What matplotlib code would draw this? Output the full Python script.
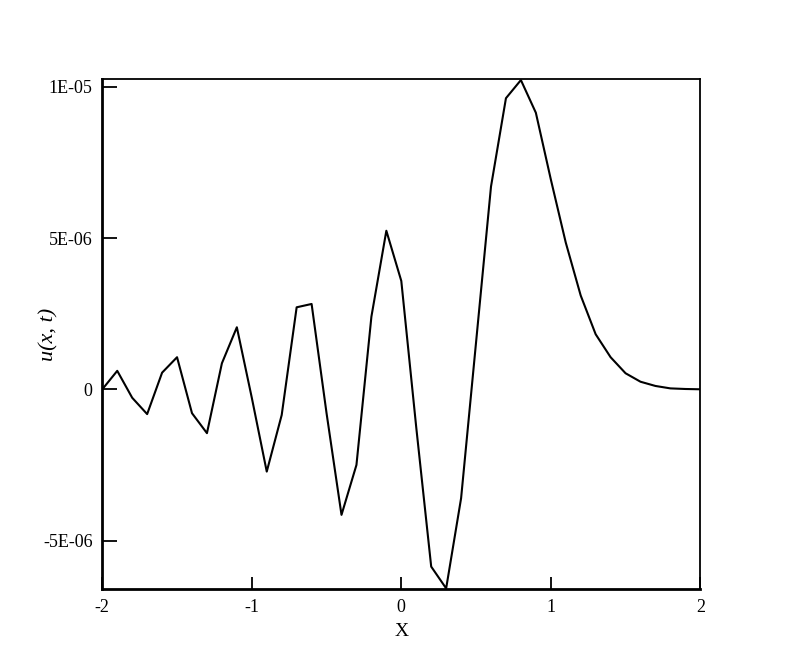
import matplotlib
matplotlib.use("Agg")
import matplotlib.pyplot as plt
from matplotlib.ticker import FixedLocator, FuncFormatter

# sampled solution u(x, t), step 0.1 from -2 to 2
x = [-2.0, -1.9, -1.8, -1.7, -1.6, -1.5, -1.4, -1.3, -1.2, -1.1,
     -1.0, -0.9, -0.8, -0.7, -0.6, -0.5, -0.4, -0.3, -0.2, -0.1,
     0.0, 0.1, 0.2, 0.3, 0.4, 0.5, 0.6, 0.7, 0.8, 0.9,
     1.0, 1.1, 1.2, 1.3, 1.4, 1.5, 1.6, 1.7, 1.8, 1.9, 2.0]
u = [0.0, 0.61, -0.28, -0.82, 0.55, 1.06, -0.79, -1.45, 0.86, 2.05,
     -0.28, -2.72, -0.85, 2.71, 2.82, -0.79, -4.15, -2.5, 2.4, 5.24,
     3.58, -1.26, -5.86, -6.58, -3.6, 1.55, 6.7, 9.62, 10.22, 9.14,
     6.94, 4.85, 3.1, 1.82, 1.06, 0.53, 0.25, 0.11, 0.03, 0.01, 0.0]
u = [v * 1e-6 for v in u]

yticks = [-5e-6, 0, 5e-6, 1e-5]
ytick_labels = {-5e-6: "-5E-06", 0: "0", 5e-6: "5E-06", 1e-5: "1E-05"}
xticks = [-2, -1, 0, 1, 2]

plt.rcParams["font.family"] = ["Liberation Serif", "DejaVu Serif"]

fig = plt.figure(figsize=(7.97, 6.64), dpi=100)
ax = fig.add_axes([102.3 / 797, 74.7 / 664, 598 / 797, 510 / 664])

ax.plot(x, u, color="black", lw=1.5)

ax.set_xlim(-2, 2)
ax.set_ylim(-6.61e-6, 1.0245e-5)
ax.xaxis.set_major_locator(FixedLocator(xticks))
ax.xaxis.set_major_formatter(FuncFormatter(lambda v, p: f"{v:g}"))
ax.yaxis.set_major_locator(FixedLocator(yticks))
ax.yaxis.set_major_formatter(
    FuncFormatter(lambda v, p: min(ytick_labels.items(), key=lambda kv: abs(kv[0] - v))[1]))

ax.tick_params(axis="y", direction="in", length=11, width=1.3, labelsize=13, pad=7)
ax.tick_params(axis="x", direction="in", length=9, width=1.3, labelsize=13, pad=7)

ax.spines["left"].set_linewidth(2)
ax.spines["bottom"].set_linewidth(2)
ax.spines["top"].set_linewidth(1.3)
ax.spines["right"].set_linewidth(1.3)

ax.set_xlabel("X", fontsize=14, labelpad=5)
ax.set_ylabel("u(x, t)", fontsize=16, style="italic")
ax.yaxis.set_label_coords(-0.074, 0.5)

fig.savefig("out.png", dpi=100)
